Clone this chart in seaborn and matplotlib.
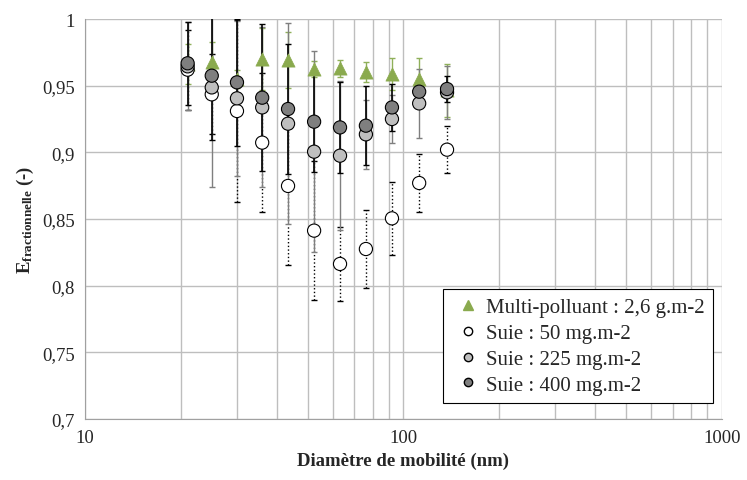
import matplotlib
matplotlib.use('Agg')
import matplotlib.pyplot as plt
import seaborn as sns
import pandas as pd
from matplotlib.lines import Line2D

# Données
diametre = [21.0, 25.0, 30.0, 36.0, 43.4, 52.4, 63.2, 76.2, 92.0, 112.0, 137.0]

multi = [0.966, 0.9675, 0.955, 0.970, 0.9695, 0.9625, 0.963, 0.9605, 0.9588, 0.955, 0.9465]
multi_err = [0.015, 0.015, 0.007, 0.023, 0.021, 0.006, 0.0065, 0.0075, 0.012, 0.0155, 0.02]

suie50 = [0.962, 0.9435, 0.931, 0.9073, 0.8748, 0.8413, 0.8163, 0.8275, 0.8505, 0.877, 0.902]
suie50_err = [0.03, 0.03, 0.068, 0.052, 0.059, 0.052, 0.028, 0.029, 0.0275, 0.022, 0.0175]

suie225 = [0.9645, 0.9487, 0.9405, 0.9337, 0.9215, 0.9005, 0.8975, 0.9135, 0.925, 0.9367, 0.945]
suie225_err = [0.033, 0.075, 0.058, 0.06, 0.0755, 0.0755, 0.056, 0.026, 0.018, 0.026, 0.02]

suie400 = [0.9668, 0.9575, 0.9525, 0.941, 0.9325, 0.923, 0.9187, 0.92, 0.9337, 0.9455, 0.9475]
suie400_err = [0.031, 0.0485, 0.0475, 0.055, 0.049, 0.0375, 0.034, 0.0295, 0.0175, 0.008, 0.01]

labels = ['Multi-polluant : 2,6 g.m-2', 'Suie : 50 mg.m-2', 'Suie : 225 mg.m-2', 'Suie : 400 mg.m-2']

sns.set_style('white')
plt.rcParams['font.family'] = ['Liberation Serif', 'DejaVu Serif']
plt.rcParams['mathtext.fontset'] = 'custom'
plt.rcParams['mathtext.rm'] = 'Liberation Serif'
plt.rcParams['mathtext.bf'] = 'Liberation Serif:bold'

df_multi = pd.DataFrame({'d': diametre, 'E': multi})
df_suie = pd.DataFrame({
    'd': diametre * 3,
    'E': suie50 + suie225 + suie400,
    'serie': [labels[1]] * 11 + [labels[2]] * 11 + [labels[3]] * 11,
})

fig = plt.figure(figsize=(7.47, 4.81), dpi=100)
ax = fig.add_axes([0.1138, 0.1268, 0.8527, 0.8316])

# Barres d'erreur (ordre des séries Excel)
ax.errorbar(diametre, multi, yerr=multi_err, fmt='none', ecolor='#8FB05A', elinewidth=1, capsize=2.5, zorder=2)
e50 = ax.errorbar(diametre, suie50, yerr=suie50_err, fmt='none', ecolor='black', elinewidth=1, capsize=2.5, zorder=2)
e50[2][0].set_linestyle(':')
ax.errorbar(diametre, suie225, yerr=suie225_err, fmt='none', ecolor='#7F7F7F', elinewidth=1, capsize=2.5, zorder=2)
ax.errorbar(diametre, suie400, yerr=suie400_err, fmt='none', ecolor='black', elinewidth=1.2, capsize=2.5, zorder=2)

sns.scatterplot(data=df_multi, x='d', y='E', marker='^', color='#8AAA4E', edgecolor='#8AAA4E',
                s=90, linewidth=0.5, ax=ax, zorder=3, legend=False)
palette = {labels[1]: 'white', labels[2]: '#BFBFBF', labels[3]: '#7F7F7F'}
sns.scatterplot(data=df_suie, x='d', y='E', hue='serie', palette=palette, marker='o',
                s=90, edgecolor='black', linewidth=0.8, ax=ax, zorder=4, legend=False)

ax.set_xscale('log')
ax.set_xlim(10, 1000)
ax.set_ylim(0.7, 1.0)
ax.set_yticks([0.7, 0.75, 0.8, 0.85, 0.9, 0.95, 1.0])
ax.set_yticklabels(['0,7', '0,75', '0,8', '0,85', '0,9', '0,95', '1'])
ax.set_xticks([10, 100, 1000])
ax.set_xticklabels(['10', '100', '1000'])
ax.tick_params(axis='both', labelsize=13.5, length=4, color='#A0A0A0')
ax.tick_params(axis='x', which='minor', length=0)
ax.grid(True, which='major', color='#BEBEBE', linewidth=1)
ax.grid(True, which='minor', axis='x', color='#BEBEBE', linewidth=1)
for s in ['top', 'right']:
    ax.spines[s].set_visible(False)
for s in ['left', 'bottom']:
    ax.spines[s].set_color('#A0A0A0')

ax.set_xlabel('Diamètre de mobilité (nm)', fontsize=13.5, fontweight='bold')
ax.set_ylabel(r'$\mathbf{E_{fractionnelle}}$ (-)', fontsize=13.5, fontweight='bold')

# Légende
handles = [
    Line2D([], [], marker='^', linestyle='none', markerfacecolor='#8AAA4E', markeredgecolor='#8AAA4E', markersize=7),
    Line2D([], [], marker='o', linestyle='none', markerfacecolor='white', markeredgecolor='black', markersize=6),
    Line2D([], [], marker='o', linestyle='none', markerfacecolor='#BFBFBF', markeredgecolor='black', markersize=6),
    Line2D([], [], marker='o', linestyle='none', markerfacecolor='#7F7F7F', markeredgecolor='black', markersize=6),
]
leg = ax.legend(handles, labels, loc='lower right', bbox_to_anchor=(0.986, 0.04), fontsize=15,
                frameon=True, fancybox=False, edgecolor='black', framealpha=1, borderaxespad=0,
                handletextpad=0.05, handlelength=1.6, labelspacing=0.3, borderpad=0.4)
leg.get_frame().set_linewidth(0.8)

fig.savefig('out.png', dpi=100)
